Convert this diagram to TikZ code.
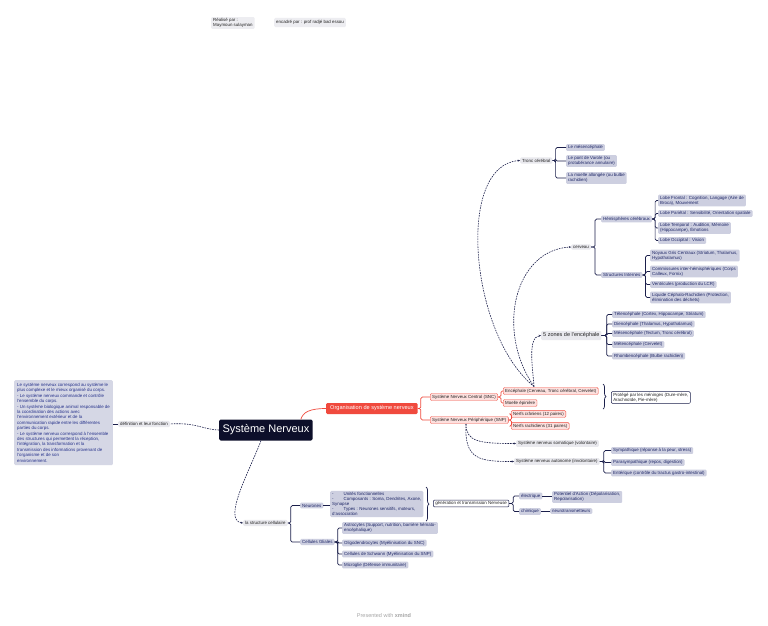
\documentclass[tikz,border=0pt]{standalone}
\usepackage{fontspec}
\setmainfont{Liberation Sans}
\usetikzlibrary{arrows.meta,decorations.pathreplacing}
\definecolor{navy}{HTML}{1B1F4B}
\definecolor{navyt}{HTML}{1D2566}
\definecolor{lav}{HTML}{CDCFE0}
\definecolor{lgray}{HTML}{E9E9EE}
\definecolor{dark}{HTML}{222222}
\definecolor{snfill}{HTML}{0D0F2A}
\definecolor{redc}{HTML}{F04A3E}
\definecolor{pinkf}{HTML}{FDE0DE}
\definecolor{deff}{HTML}{D5D7E5}
\definecolor{deft}{HTML}{24308A}
\newcommand\mybr[4][conn]{\foreach \c in {#4}{\draw[#1,rounded corners=1.5pt] (#2.east) -- ++(#3,0) |- (\c.west);}}
\tikzset{
 base/.style={anchor=west, rounded corners=1.2pt, inner xsep=2pt, inner ysep=1.4pt, font=\fontsize{4.4}{5}\selectfont, align=left},
 leaf/.style={base, fill=lav, text=navyt},
 mid/.style={base, fill=lgray, text=dark},
 rnode/.style={base, fill=pinkf, draw=redc, line width=0.4pt, text=dark},
 wbox/.style={base, fill=white, draw=navy, line width=0.5pt, text=dark},
 conn/.style={draw=navy, line width=0.7pt},
 rconn/.style={draw=redc, line width=0.7pt},
 dconn/.style={draw=navy, line width=0.6pt, dash pattern=on 1.6pt off 1pt, -{Stealth[length=2.2pt,width=2pt]}},
 bracestyle/.style={draw=navy, line width=0.7pt, decorate, decoration={brace, amplitude=3pt}},
}
\begin{document}
\begin{tikzpicture}[x=1pt,y=-1pt]
\useasboundingbox[fill=white] (0,0) rectangle (768,625);

% header
\node[mid, fill=lgray!80] (real) at (211,23) {Réalisé par :\\Maymoun sulayman};
\node[mid, fill=lgray!80, inner ysep=2.5pt] (enca) at (274,22.5) {encadré par : prof radjé bad essou};

% definition
\node[base, anchor=north west, fill=deff, text=deft, inner sep=3pt, font=\fontsize{4.4}{5.4}\selectfont] (deftext) at (14,380) {Le système nerveux correspond au système le\\plus complexe et le mieux organisé du corps.\\- Le système nerveux commande et contrôle\\l'ensemble du corps.\\- Un système biologique animal responsable de\\la coordination des actions avec\\l'environnement extérieur et de la\\communication rapide entre les différentes\\parties du corps.\\- Le système nerveux correspond à l'ensemble\\des structures qui permettent la réception,\\l'intégration, la transformation et la\\transmission des informations provenant de\\l'organisme et de son\\environnement.};
\node[mid] (defn) at (118,424) {définition et leur fonction};

% central
\node[anchor=west, fill=snfill, text=white, rounded corners=1.5pt, minimum width=91pt, minimum height=21pt, font=\fontsize{11}{12}\selectfont] (sn) at (219,430) {Système Nerveux};

% organisation
\node[base, fill=redc, text=white, minimum height=11pt, inner xsep=4pt, font=\fontsize{5.6}{6}\selectfont] (org) at (326,408.5) {Organisation de système nerveux};
\node[rnode] (snc) at (430,397) {Système Nerveux Central (SNC)};
\node[rnode] (snp) at (430,420) {Système Nerveux Périphérique (SNP)};
\node[rnode] (ence) at (503,391) {Encéphale (Cerveau, Tronc cérébral, Cervelet)};
\node[rnode] (moel) at (503,403) {Moelle épinière};
\node[rnode] (ncra) at (511,414) {Nerfs crâniens (12 paires)};
\node[rnode] (nrac) at (511,426) {Nerfs rachidiens (31 paires)};
\node[wbox] (prot) at (611,397.5) {Protégé par les méninges (Dure-mère,\\Arachnoïde, Pie-mère)};

% tronc cerebral
\node[mid] (tronc) at (520,160.5) {Tronc cérébral};
\node[leaf] (mes) at (566,147.5) {Le mésencéphale};
\node[leaf] (pont) at (566,161) {Le pont de Varole (ou\\protubérance annulaire)};
\node[leaf] (bulb) at (566,178) {La moelle allongée (ou bulbe\\rachidien)};

% cerveau
\node[mid] (cerv) at (571,247) {cerveau};
\node[leaf] (hemi) at (601,219) {Hémisphères cérébraux};
\node[leaf] (stin) at (601,275) {Structures Internes};
\node[leaf] (lf) at (658,200.5) {Lobe Frontal : Cognition, Langage (Aire de\\Broca), Mouvement};
\node[leaf] (lp) at (658,213.5) {Lobe Pariétal : Sensibilité, Orientation spatiale};
\node[leaf] (lt) at (658,228) {Lobe Temporal : Audition, Mémoire\\(Hippocampe), Émotions};
\node[leaf] (lo) at (658,240.5) {Lobe Occipital : Vision};
\node[leaf] (ngc) at (650,255.5) {Noyaux Gris Centraux (Striatum, Thalamus,\\Hypothalamus)};
\node[leaf] (comm) at (650,271.5) {Commissures inter-hémisphériques (Corps\\Calleux, Fornix)};
\node[leaf] (vent) at (650,284.5) {Ventricules (production du LCR)};
\node[leaf] (lcr) at (650,297.5) {Liquide Céphalo-Rachidien (Protection,\\élimination des déchets)};

% 5 zones
\node[mid, font=\fontsize{5.5}{6}\selectfont, inner ysep=2pt] (zones) at (541,335.5) {5 zones de l'encéphale};
\node[leaf] (tel) at (612,314.5) {Télencéphale (Cortex, Hippocampe, Striatum)};
\node[leaf] (die) at (612,324) {Diencéphale (Thalamus, Hypothalamus)};
\node[leaf] (mesb) at (612,333.5) {Mésencéphale (Tectum, Tronc cérébral)};
\node[leaf] (met) at (612,344.5) {Métencéphale (Cervelet)};
\node[leaf] (rho) at (612,356) {Rhombencéphale (Bulbe rachidien)};

% SNP branches
\node[mid] (soma) at (516,443.5) {Système nerveux somatique (volontaire)};
\node[mid] (auto) at (514,461.5) {Système nerveux autonome (involontaire)};
\node[leaf] (symp) at (611,450.5) {Sympathique (réponse à la peur, stress)};
\node[leaf] (para) at (611,462.5) {Parasympathique (repos, digestion)};
\node[leaf] (ente) at (611,473) {Entérique (contrôle du tractus gastro-intestinal)};

% structure cellulaire
\node[mid] (stru) at (243,523) {la structure cellulaire};
\node[leaf] (neur) at (300,505.5) {Neurones};
\node[leaf] (glia) at (300,542) {Cellules Gliales};
\node[leaf] (nbox) at (330,504) {-\hspace{10pt}Unités fonctionnelles\\-\hspace{10pt}Composants : Soma, Dendrites, Axone,\\Synapse\\-\hspace{10pt}Types : Neurones sensitifs, moteurs,\\d'association};
\node[wbox] (gen) at (433,503.5) {génération et transmission Nerveuse};
\node[leaf] (elec) at (519,496) {électrique};
\node[leaf] (chim) at (519,511.5) {chimique};
\node[leaf] (pot) at (552,497) {Potentiel d'Action (Dépolarisation,\\Repolarisation)};
\node[leaf] (neurot) at (550,511) {neurotransmetteurs};
\node[leaf] (astr) at (342,528) {Astrocytes (Support, nutrition, barrière hémato-\\encéphalique)};
\node[leaf] (olig) at (342,543) {Oligodendrocytes (Myélinisation du SNC)};
\node[leaf] (schw) at (342,554) {Cellules de Schwann (Myélinisation du SNP)};
\node[leaf] (micr) at (342,565) {Microglie (Défense immunitaire)};

% footer
\node[font=\fontsize{5.5}{6}\selectfont, text=black!35] (foot) at (384,616) {Presented with \textbf{xmind}};

% ---------- connectors
\draw[conn] (defn.west) -- (defn.west -| deftext.east);
\draw[draw=navy, line width=0.6pt, dash pattern=on 1.6pt off 1pt] (sn.west) .. controls (205,430) and (195,422) .. (defn.east);
\draw[rconn] ([xshift=-12pt]sn.north east) .. controls (303,412) and (310,408.5) .. (org.west);
\mybr[rconn]{org}{3}{snc,snp}
\mybr[rconn]{snc}{3}{ence,moel}
\mybr[rconn]{snp}{3}{ncra,nrac}
\draw[bracestyle] (603,384) -- (603,409);

\coordinate (es) at (534,386.5);
\draw[dconn] (es) .. controls (470,335) and (455,165) .. (tronc.west);
\draw[dconn] (es) .. controls (495,330) and (515,250) .. (cerv.west);
\draw[dconn] (es) .. controls (533,370) and (527,337) .. (zones.west);

\mybr{tronc}{3}{mes,pont,bulb}
\mybr{cerv}{4}{hemi,stin}
\mybr{hemi}{3}{lf,lp,lt,lo}
\mybr{stin}{3}{ngc,comm,vent,lcr}
\mybr{zones}{5}{tel,die,mesb,met,rho}

\coordinate (ps) at (466,424);
\draw[dconn] (ps) .. controls (466,442) and (480,443.5) .. (soma.west);
\draw[dconn] (ps) .. controls (464,460) and (480,461.5) .. (auto.west);
\mybr{auto}{4}{symp,para,ente}

\draw[dconn] ([xshift=-5pt]sn.south) .. controls (250,470) and (222,520) .. (stru.west);
\mybr{stru}{3}{neur,glia}
\draw[conn] (neur.east) -- (neur.east -| nbox.west);
\draw[bracestyle] (426,487) -- (426,521);
\mybr{gen}{4}{elec,chim}
\draw[conn] (elec.east) -- (elec.east -| pot.west);
\draw[conn] (chim.east) -- (chim.east -| neurot.west);
\mybr{glia}{3}{astr,olig,schw,micr}
\end{tikzpicture}
\end{document}
